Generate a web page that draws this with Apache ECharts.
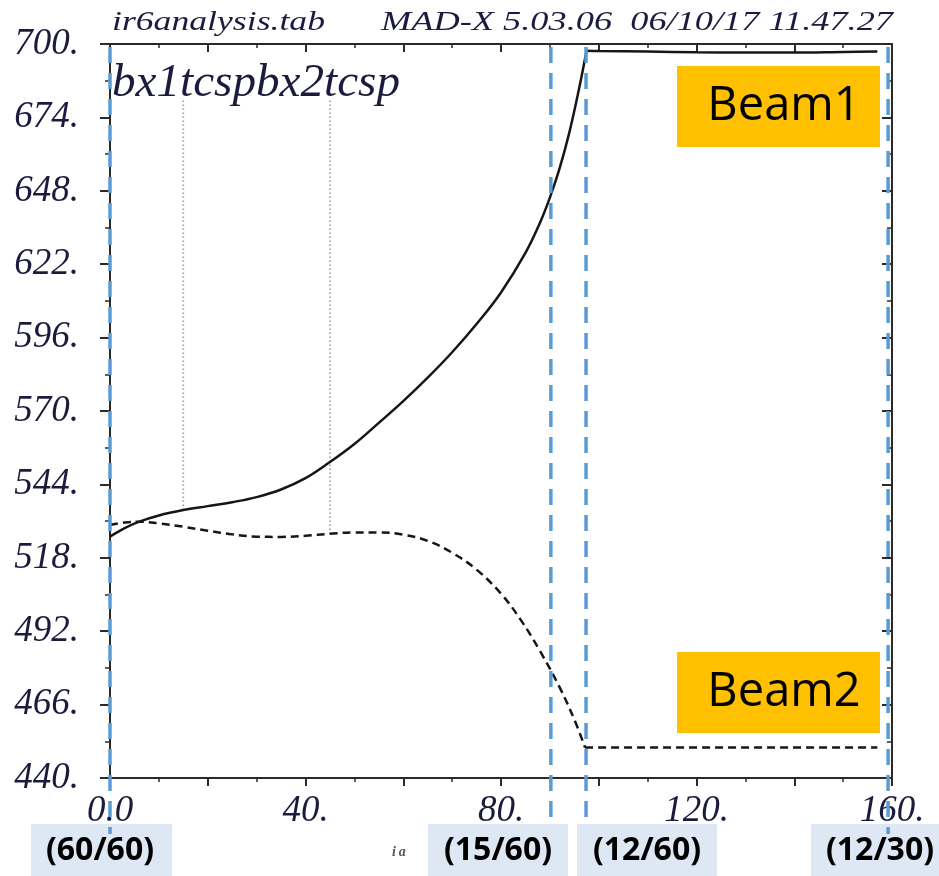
<!DOCTYPE html>
<html><head><meta charset="utf-8">
<script src="https://cdn.jsdelivr.net/npm/echarts@6/dist/echarts.min.js"></script>
<style>html,body{margin:0;padding:0;background:#fff}#c{width:939px;height:876px}</style>
</head><body><div id="c"></div>
<script>
// ---- data ----
const xTickLabels = ['0.0', '40.', '80.', '120.', '160.'];
const yTickLabels = ['440.', '466.', '492.', '518.', '544.', '570.', '596.', '622.', '648.', '674.', '700.'];
const Y_BASE = 440, Y_STEP = 26;

// Beam1 (solid)
const beam1S = [0, 3, 6, 10, 15, 20, 25, 30, 35, 40, 45, 50, 55, 60, 65, 70, 75, 80, 85, 88, 90, 92, 94, 96, 97.5, 100, 110, 120, 130, 140, 150, 157];
const beam1V = [525.5, 528.5, 530.8, 533.0, 534.9, 536.3, 537.7, 539.5, 542.2, 546.2, 551.9, 558.3, 565.8, 573.5, 581.8, 590.8, 600.8, 612.0, 626.0, 636.8, 645.6, 656.0, 668.8, 684.4, 697.6, 697.5, 697.3, 697.1, 697.0, 697.0, 697.2, 697.3];
const beam1Corner = 97.5;
// Beam2 (dashed)
const beam2S = [0, 3, 6, 10, 15, 20, 25, 30, 35, 40, 45, 50, 55, 60, 65, 70, 75, 80, 84, 88, 92, 95, 97.2, 100, 120, 140, 157];
const beam2V = [529.7, 530.5, 530.8, 530.2, 529.0, 527.6, 526.3, 525.5, 525.4, 525.8, 526.5, 527.0, 527.0, 526.2, 524.0, 519.8, 513.8, 505.3, 496.1, 484.9, 472.1, 460.7, 450.8, 450.8, 450.8, 450.8, 450.8];
const beam2Corner = 97.2;
// element markers (dotted): position, top value, bottom value
const markerS = [15, 45];
const markerTop = [680, 680];
const markerBottom = [535.0, 526.5];
const markerText = 'bx1tcspbx2tcsp';
// annotation dashed verticals and their labels
const annotS = [0, 90.2, 97.4, 159.2];
const annotLabels = ['(60/60)', '(15/60)', '(12/60)', '(12/30)'];
const headerLeft = 'ir6analysis.tab';
const headerRight = 'MAD-X 5.03.06  06/10/17 11.47.27';
const beamLabels = ['Beam1', 'Beam2'];

// ---- helpers ----
const yv = v => v - Y_BASE;
function pairs(S, V, from, to) {
  const out = [];
  for (let i = 0; i < S.length; i++) if (S[i] >= from && S[i] <= to) out.push([S[i], yv(V[i])]);
  return out;
}
const ink = '#1b1b3d';
const axisCol = '#2a2a2a';
const serif = '"Liberation Serif", "Times New Roman", serif';

const chart = echarts.init(document.getElementById('c'), null, {renderer: 'canvas'});

const commonX = {type: 'value', min: 0, max: 160, interval: 20, splitLine: {show: false}, show: true};
const commonY = {type: 'value', min: 0, max: 260, interval: Y_STEP, splitLine: {show: false}, show: true};

const curveStyle = {color: '#161616', width: 2.5};
const series = [
  {type: 'line', data: pairs(beam1S, beam1V, 0, beam1Corner), smooth: 0.4, showSymbol: false,
   lineStyle: curveStyle, z: 5},
  {type: 'line', data: pairs(beam1S, beam1V, beam1Corner, 200), smooth: 0.3, showSymbol: false,
   lineStyle: curveStyle, z: 5},
  {type: 'line', data: pairs(beam2S, beam2V, 0, beam2Corner), smooth: 0.4, showSymbol: false,
   lineStyle: Object.assign({type: [8, 5]}, curveStyle), z: 5},
  {type: 'line', data: pairs(beam2S, beam2V, beam2Corner, 200), showSymbol: false,
   lineStyle: Object.assign({type: [8, 5]}, curveStyle), z: 5}
];
markerS.forEach((s, i) => series.push({
  type: 'line', data: [[s, yv(markerTop[i])], [s, yv(markerBottom[i])]], showSymbol: false,
  lineStyle: {color: '#9a9a9a', width: 1.6, type: [1.6, 2.4]}, z: 3
}));

const lineX = {onZero: false, lineStyle: {color: axisCol, width: 2}};
chart.setOption({
  animation: false,
  backgroundColor: '#fff',
  grid: {left: 110, right: 47, top: 44, bottom: 98, containLabel: false},
  xAxis: [
    Object.assign({}, commonX, {
      position: 'bottom',
      axisLine: lineX,
      axisTick: {show: true, inside: false, length: 8, lineStyle: {color: axisCol, width: 2}},
      minorTick: {show: true, splitNumber: 2, length: 4, lineStyle: {color: axisCol, width: 1.5}},
      axisLabel: {
        margin: 15, color: ink, fontFamily: serif, fontStyle: 'italic', fontSize: 37,
        formatter: v => (Math.round(v) % 40 === 0) ? xTickLabels[Math.round(v) / 40] : ''
      }
    }),
    Object.assign({}, commonX, {
      position: 'top',
      axisLine: lineX,
      axisTick: {show: true, inside: true, length: 8, lineStyle: {color: axisCol, width: 2}},
      minorTick: {show: true, splitNumber: 2, length: 4, lineStyle: {color: axisCol, width: 1.5}},
      axisLabel: {show: false}
    })
  ],
  yAxis: [
    Object.assign({}, commonY, {
      position: 'left',
      axisLine: lineX,
      axisTick: {show: true, inside: false, length: 10, lineStyle: {color: axisCol, width: 2}},
      minorTick: {show: true, splitNumber: 2, length: 5, lineStyle: {color: axisCol, width: 1.5}},
      axisLabel: {
        margin: 31, color: ink, fontFamily: serif, fontStyle: 'italic', fontSize: 37,
        formatter: v => yTickLabels[Math.round(v / Y_STEP)]
      }
    }),
    Object.assign({}, commonY, {
      position: 'right',
      axisLine: lineX,
      axisTick: {show: true, inside: true, length: 10, lineStyle: {color: axisCol, width: 2}},
      minorTick: {show: true, splitNumber: 2, length: 5, lineStyle: {color: axisCol, width: 1.5}},
      axisLabel: {show: false}
    })
  ],
  series: series
});

// ---- annotations (positions via the chart's own scale) ----
const ctx = document.createElement('canvas').getContext('2d');
function measure(text, font) { ctx.font = font; return ctx.measureText(text).width; }

const hdrFont = 'italic 28px ' + serif;
const hdrScaleL = 213 / measure(headerLeft, hdrFont);
const hdrScaleR = 512 / measure(headerRight, hdrFont);
const elFont = 'italic 46px ' + serif;
const elScale = 288 / measure(markerText, elFont);

const graphics = [];
graphics.push({type: 'text', x: 112, y: 23, scaleX: hdrScaleL, z: 50,
  style: {text: headerLeft, font: hdrFont, fill: ink, textAlign: 'left', textVerticalAlign: 'middle'}});
graphics.push({type: 'text', x: 893, y: 23, scaleX: hdrScaleR, z: 50,
  style: {text: headerRight, font: hdrFont, fill: ink, textAlign: 'right', textVerticalAlign: 'middle'}});
graphics.push({type: 'text', x: 112, y: 84, scaleX: elScale, z: 50,
  style: {text: markerText, font: elFont, fill: ink, textAlign: 'left', textVerticalAlign: 'middle'}});

// beam boxes
const beamBoxY = [66, 652];
beamLabels.forEach((t, i) => {
  graphics.push({type: 'rect', shape: {x: 677, y: beamBoxY[i], width: 203, height: 81}, z: 60,
    style: {fill: '#ffc000'}});
  graphics.push({type: 'text', x: 784, y: beamBoxY[i] + 41, z: 61,
    style: {text: t, font: '47px "Open Sans", Lato, sans-serif', fill: '#000', textAlign: 'center', textVerticalAlign: 'middle'}});
});

// bottom label boxes
const boxL = [31, 428, 577, 811];
const boxW = [141, 140, 140, 128];
const txtC = [100, 498, 647, 880];
annotLabels.forEach((t, i) => {
  graphics.push({type: 'rect', shape: {x: boxL[i], y: 824, width: boxW[i], height: 52}, z: 60,
    style: {fill: '#dde8f4'}});
  graphics.push({type: 'text', x: txtC[i], y: 851, z: 61,
    style: {text: t, font: 'bold 32px "Open Sans", Lato, sans-serif', fill: '#000', textAlign: 'center', textVerticalAlign: 'middle'}});
});
graphics.push({type: 'text', x: 392, y: 852, z: 55,
  style: {text: 'i\u2009a', font: 'italic bold 14px ' + serif, fill: '#556', textAlign: 'left', textVerticalAlign: 'middle'}});

// blue dashed verticals
const lineBottom = [834, 818, 818, 834];
annotS.forEach((s, i) => {
  const px = chart.convertToPixel({xAxisIndex: 0}, s);
  graphics.push({type: 'line', shape: {x1: px, y1: 47, x2: px, y2: lineBottom[i]}, z: 70,
    style: {stroke: '#5b9bd5', lineWidth: 3.5, lineDash: [16, 10]}});
});

chart.setOption({graphic: graphics});
</script>
</body></html>
